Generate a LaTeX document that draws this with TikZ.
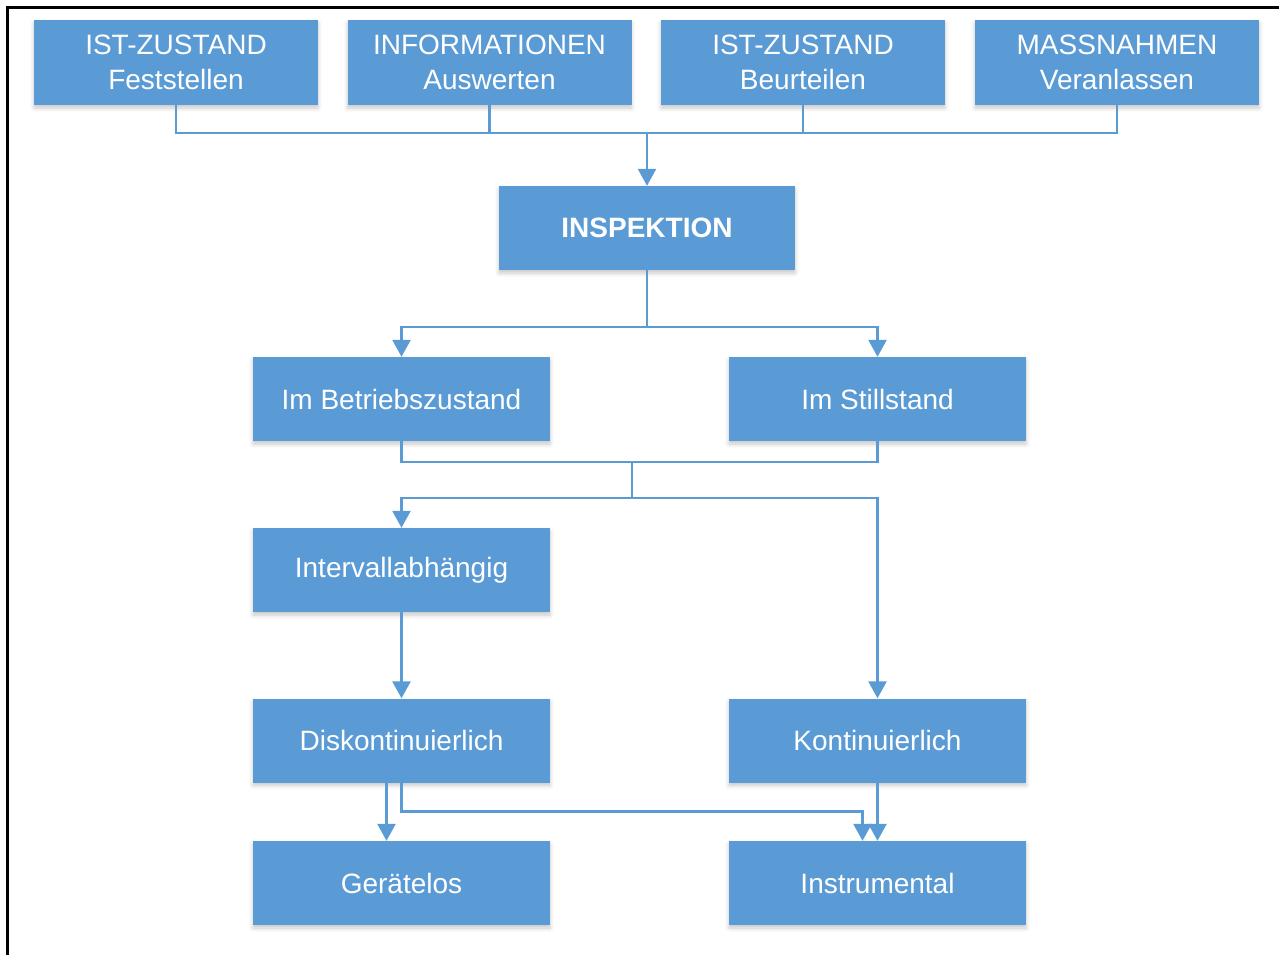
\documentclass[tikz,border=0pt]{standalone}
\usepackage{fontspec}
\setmainfont{Liberation Sans}
\usetikzlibrary{arrows.meta,shadows.blur}
\definecolor{boxblue}{RGB}{91,155,213}
\tikzset{
  box/.style={rectangle, fill=boxblue, text=white, inner sep=0pt,
    minimum height=84pt, align=center,
    font=\fontsize{28}{35}\selectfont,
    blur shadow={shadow xshift=0pt, shadow yshift=-3pt,
      shadow blur radius=4pt, shadow opacity=22}},
  topbox/.style={box, minimum width=284pt, minimum height=85pt},
  midbox/.style={box, minimum width=297pt},
  link/.style={draw=boxblue, line width=2.6pt},
  arrow/.style={link, -{Triangle[width=18pt,length=17pt]}}
}
\begin{document}
\begin{tikzpicture}[x=1pt, y=-1pt]
  \useasboundingbox (0,0) rectangle (1279,954);
  % frame
  \draw[line width=3pt, line cap=rect] (1279,7) -- (7,7) -- (7,954);

  % top row
  \node[topbox] (t1) at (176,62.5)  {IST-ZUSTAND\\Feststellen};
  \node[topbox] (t2) at (489.5,62.5) {INFORMATIONEN\\Auswerten};
  \node[topbox] (t3) at (803,62.5)  {IST-ZUSTAND\\Beurteilen};
  \node[topbox] (t4) at (1117,62.5) {MASSNAHMEN\\Veranlassen};

  \node[box, minimum width=296pt, font=\fontsize{28}{35}\selectfont\bfseries] (insp) at (647,228) {INSPEKTION};

  \node[midbox] (betr)   at (401.5,399) {Im Betriebszustand};
  \node[midbox] (still)  at (877.5,399) {Im Stillstand};
  \node[midbox] (interv) at (401.5,570) {Intervallabhängig};
  \node[midbox] (disk)   at (401.5,740.5) {Diskontinuierlich};
  \node[midbox] (kont)   at (877.5,740.5) {Kontinuierlich};
  \node[midbox] (gerat)  at (401.5,883) {Gerätelos};
  \node[midbox] (instr)  at (877.5,883) {Instrumental};

  % junction points
  \coordinate (bus) at (647,133);
  \coordinate (s1)  at (647,327);
  \coordinate (m1)  at (632,462);
  \coordinate (s2)  at (632,498);

  % top row into INSPEKTION
  \draw[link] (t1.south) |- (bus) -| (t4.south);
  \draw[link] (t2.south) -- (t2.south |- bus);
  \draw[link] (t3.south) -- (t3.south |- bus);
  \draw[arrow] (bus) -- (insp.north);

  % INSPEKTION split
  \draw[link] (insp.south) -- (s1);
  \draw[arrow] (s1) -| (betr.north);
  \draw[arrow] (s1) -| (still.north);

  % merge and split again
  \draw[link] (betr.south) |- (m1) -| (still.south);
  \draw[link] (m1) -- (s2);
  \draw[arrow] (s2) -| (interv.north);
  \draw[arrow] (s2) -| (kont.north);

  \draw[arrow] (interv) -- (disk);

  % bottom arrows
  \draw[arrow] ([xshift=-15pt]disk.south) -- ([xshift=-15pt]gerat.north);
  \draw[arrow] (disk.south) -- ++(0,29) -| ([xshift=-15pt]instr.north);
  \draw[arrow] (kont) -- (instr);
\end{tikzpicture}
\end{document}
